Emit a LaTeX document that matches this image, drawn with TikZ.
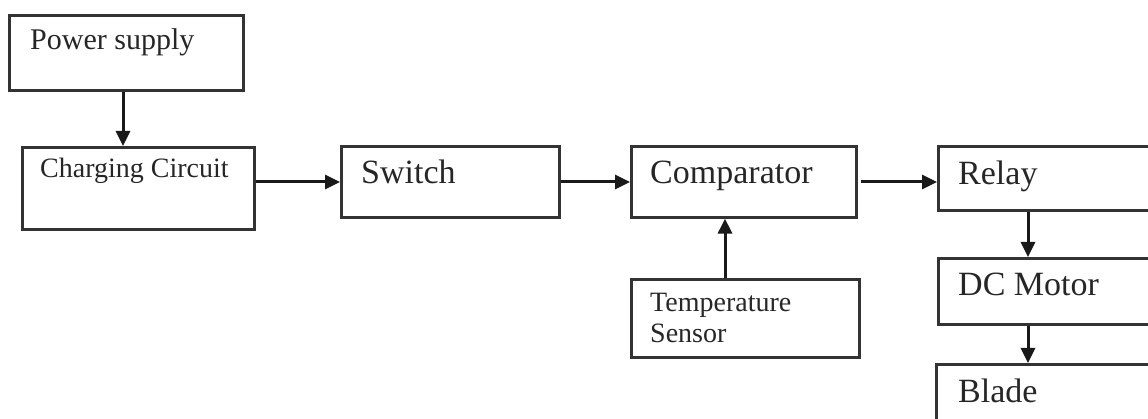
\documentclass[tikz,border=0pt]{standalone}
\usepackage{fontspec}
\setmainfont{Liberation Serif}
\usetikzlibrary{arrows.meta}
\begin{document}
\begin{tikzpicture}[x=1pt,y=-1pt,
  box/.style={draw=black!80, line width=2.6pt, anchor=north west, inner sep=0pt},
  lbl/.style={anchor=base west, inner sep=0pt, text=black!85},
  big/.style={lbl, font=\fontsize{34}{38}\selectfont},
  mid/.style={lbl, font=\fontsize{30}{34}\selectfont},
  small/.style={lbl, font=\fontsize{28}{32}\selectfont},
  arr/.style={line width=3pt, draw=black!90, -{Triangle[length=15pt,width=14pt]}}]
\useasboundingbox (0,0) rectangle (1148,419);
\clip (0,0) rectangle (1148,419);
% boxes
\node[box, minimum width=234pt, minimum height=75pt] (ps) at (8,14) {};
\node[box, minimum width=232pt, minimum height=82pt] (cc) at (21,146) {};
\node[box, minimum width=218pt, minimum height=71pt] (sw) at (340,145) {};
\node[box, minimum width=225pt, minimum height=71pt] (cmp) at (630,145) {};
\node[box, minimum width=228pt, minimum height=78pt] (ts) at (630,278) {};
\node[box, minimum width=240pt, minimum height=64pt] (rl) at (937,145) {};
\node[box, minimum width=240pt, minimum height=66pt] (dc) at (937,257) {};
\node[box, minimum width=240pt, minimum height=80pt] (bl) at (935,363) {};
% texts
\node[mid] (pst) at (30,50) {Power supply};
\node[small] (cct) at (40,178) {Charging Circuit};
\node[big] (swt) at (361,184) {Switch};
\node[big] (cmpt) at (650,184) {Comparator};
\node[small] (tst1) at (650,312) {Temperature};
\node[small] (tst2) at (650,343) {Sensor};
\node[big] (rlt) at (958,185) {Relay};
\node[big] (dct) at (958,296) {DC Motor};
\node[big] (blt) at (958,402) {Blade};
% arrows
\draw[arr] (ps.south -| 123,0) -- (cc.north -| 123,0);
\draw[arr] (cc.east |- 0,182) -- (sw.west |- 0,182);
\draw[arr] (sw.east |- 0,182) -- (cmp.west |- 0,182);
\draw[arr] (cmp.east |- 0,182) ++(3,0) -- (rl.west |- 0,182);
\draw[arr] (ts.north -| 725,0) -- (cmp.south -| 725,0);
\draw[arr] (rl.south -| 1028,0) -- (dc.north -| 1028,0);
\draw[arr] (dc.south -| 1028,0) -- (bl.north -| 1028,0);
\end{tikzpicture}
\end{document}
